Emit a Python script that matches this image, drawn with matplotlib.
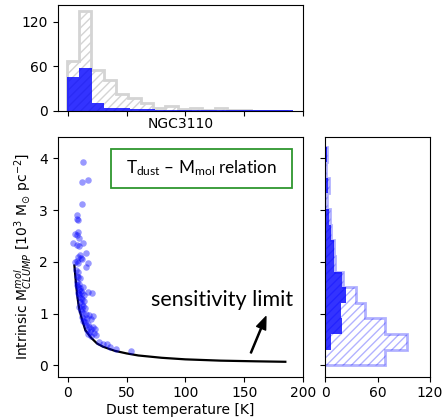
# NGC3110: dust temperature vs intrinsic clump mass, with marginal histograms
import numpy as np
import matplotlib.pyplot as plt
from matplotlib.patches import Rectangle

plt.rcParams['mathtext.rm'] = 'Lato'
plt.rcParams['mathtext.it'] = 'Lato:italic'
plt.rcParams['mathtext.bf'] = 'Lato:bold'

# clumps (scatter)
t_dust = [12.8, 12.5, 17.6, 12.5, 7.6, 8.2, 8.7, 9.1, 6.2, 8.0, 4.8, 9.9, 13.3, 7.6, 10.0,
          15.6, 10.5, 8.4, 12.5, 17.6, 15.6, 6.2, 7.5, 11.0, 9.0,
          7.2, 8.5, 7.8, 9.0, 10.2, 8.0, 9.5, 7.5, 8.8, 10.5, 12.8, 9.2, 11.0, 8.4, 10.0,
          12.0, 13.5, 17.6, 20.4, 9.5, 11.2, 12.5, 14.0, 10.2, 11.8, 13.2, 9.8, 12.0, 14.5,
          11.0, 13.0, 15.2, 18.4, 21.3, 12.5, 14.0, 16.0, 19.5, 13.0, 15.0, 17.0, 21.8,
          23.2, 15.5, 18.5, 20.0, 16.5, 19.0, 22.0, 19.6, 17.0, 24.0, 30.3, 33.2, 27.0,
          41.1, 53.9, 36.0]
m_clump = [3.93, 3.54, 3.59, 3.12, 2.90, 2.82, 2.80, 2.58, 2.54, 2.52, 2.36, 2.47, 2.36, 2.32, 2.30,
           2.18, 2.13, 2.10, 2.05, 1.97, 1.90, 2.00, 2.02, 2.08, 1.98,
           1.85, 1.80, 1.72, 1.70, 1.68, 1.62, 1.58, 1.55, 1.52, 1.50, 1.52, 1.46, 1.44, 1.40, 1.38,
           1.40, 1.36, 1.42, 1.40, 1.32, 1.30, 1.28, 1.25, 1.22, 1.18, 1.15, 1.12, 1.08, 1.10,
           1.05, 1.02, 1.00, 0.97, 0.95, 0.94, 0.90, 0.92, 0.90, 0.86, 0.84, 0.80, 0.75,
           0.71, 0.78, 0.74, 0.70, 0.68, 0.64, 0.62, 0.57, 0.60, 0.58, 0.42, 0.41, 0.45,
           0.31, 0.28, 0.36]

# sensitivity limit curve
lim_t = [5.7, 6, 7, 8, 9, 10, 12, 15, 20, 25, 30, 40, 50, 60, 80, 100, 130, 160, 185]
lim_m = [1.93, 1.85, 1.6, 1.38, 1.2, 1.07, 0.9, 0.68, 0.53, 0.42, 0.36, 0.28, 0.23, 0.19,
         0.145, 0.115, 0.09, 0.077, 0.068]

# top histogram (dust temperature)
top_all = [67, 135, 55, 41, 23, 17, 10, 3, 6, 2, 4, 1, 4, 1, 1, 0, 0, 0]
top_blue = [46, 58, 10, 4, 3, 2, 2, 1, 1, 1, 1, 1, 1, 1, 1, 1, 1, 1]
top_all_edges = -0.85 + 10.47 * np.arange(len(top_all) + 1)
top_blue_edges = np.linspace(-0.85, 191.5, len(top_blue) + 1)

# right histogram (clump mass)
right_all = [68, 94, 68, 45, 35, 20, 11, 10, 7, 5, 2, 4, 1, 2]
right_blue = [0, 6, 19, 18, 24, 19, 10, 10, 6, 4, 1, 3, 0, 2]
right_edges = np.linspace(0, 4.23, len(right_all) + 1)

fig = plt.figure(figsize=(4.48, 4.19), dpi=100)
ax = fig.add_axes([0.1288, 0.101, 0.5475, 0.5728])
axt = fig.add_axes([0.1288, 0.7358, 0.5475, 0.2523])
axr = fig.add_axes([0.7261, 0.101, 0.2337, 0.5728])

# main panel
ax.scatter(t_dust, m_clump, s=22, color='blue', alpha=0.4, linewidths=0, zorder=3)
ax.plot(lim_t, lim_m, color='black', lw=1.6, zorder=2)
ax.set_xlim(-8.5, 200)
ax.set_ylim(-0.22, 4.42)
ax.set_xticks([0, 50, 100, 150, 200])
ax.set_yticks([0, 1, 2, 3, 4])
ax.set_xlabel('Dust temperature [K]', fontsize=10, labelpad=2)
ax.set_ylabel(r'Intrinsic M$^{mol}_{CLUMP}$ [10$^3$ M$_{\odot}$ pc$^{-2}$]', fontsize=10)
ax.set_title('NGC3110', fontsize=10, pad=6)

ax.add_patch(Rectangle((0.216, 0.7875), 0.738, 0.1615, transform=ax.transAxes,
                       facecolor='white', edgecolor='#2e962e', lw=1.3, zorder=4))
ax.text(0.585, 0.868, r'T$_{\rm dust}$ – M$_{\rm mol}$ relation', transform=ax.transAxes,
        ha='center', va='center', fontsize=12.3, family='Lato', math_fontfamily='custom',
        zorder=5)
ax.text(131.5, 1.146, 'sensitivity limit', ha='center', va='baseline', fontsize=15.5,
        family='Lato')
ax.annotate('', xy=(168.5, 0.94), xytext=(155.7, 0.24),
            arrowprops=dict(facecolor='black', edgecolor='black', width=0.8,
                            headwidth=7, headlength=9))

# top histogram
axt.stairs(top_all, top_all_edges, fill=True, facecolor='white', edgecolor='#d4d4d4',
           hatch='////', lw=2)
axt.stairs(top_blue, top_blue_edges, fill=True, color='blue', alpha=0.8, lw=1.5)
axt.set_xlim(-8.5, 200)
axt.set_ylim(0, 143)
axt.set_xticks([0, 50, 100, 150, 200])
axt.set_xticklabels([])
axt.set_yticks([0, 60, 120])

# right histogram
axr.stairs(right_all, right_edges, orientation='horizontal', fill=True, facecolor='white',
           edgecolor=(0, 0, 1, 0.3), hatch='////', lw=2)
axr.stairs(right_blue, right_edges, orientation='horizontal', fill=True, color='blue',
           alpha=0.8, lw=1.5)
axr.set_xlim(0, 120)
axr.set_ylim(-0.22, 4.42)
axr.set_xticks([0, 60, 120])
axr.set_yticks([0, 1, 2, 3, 4])
axr.set_yticklabels([])

fig.savefig('out.png', dpi=100)
